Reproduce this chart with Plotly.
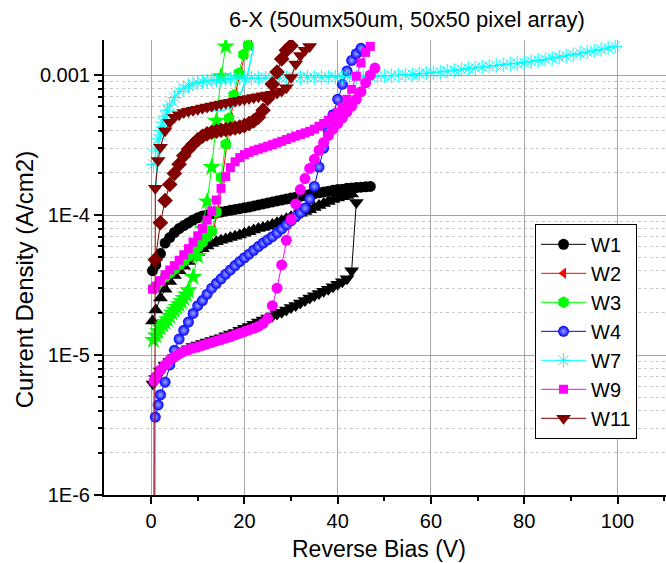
import plotly.graph_objects as go

# ---------------- data ----------------
w1_v = [0.3,1,2,3,4,5,6,7,8,9,10,11,12,13,14,15,16,17,18,19,20,21,22,23,24,25,26,27,28,29,30,31,32,33,34,35,36,37,38,39,40,41,42,43,44,45,46,47]
w1_j = [4.0e-5,4.4e-5,5.3e-5,6.3e-5,6.9e-5,7.5e-5,8.0e-5,8.4e-5,8.8e-5,9.2e-5,9.55e-5,9.85e-5,1.0e-4,1.02e-4,1.035e-4,1.05e-4,1.065e-4,1.08e-4,1.095e-4,1.11e-4,1.125e-4,1.14e-4,1.16e-4,1.18e-4,1.2e-4,1.22e-4,1.24e-4,1.26e-4,1.28e-4,1.30e-4,1.32e-4,1.34e-4,1.36e-4,1.38e-4,1.40e-4,1.42e-4,1.44e-4,1.46e-4,1.48e-4,1.50e-4,1.52e-4,1.53e-4,1.55e-4,1.56e-4,1.57e-4,1.58e-4,1.59e-4,1.6e-4]

w1b_v = [0.3,1,2,3,4,5,6,7,8,9,10,11,12,13,14,15,16,17,18,19,20,21,22,23,24,25,26,27,28,29,30,31,32,33,34,35,36,37,38,39,40,41,42,43]
w1b_j = [1.75e-5,2.1e-5,2.55e-5,2.95e-5,3.35e-5,3.7e-5,4.0e-5,4.3e-5,4.65e-5,5.0e-5,5.4e-5,5.75e-5,6.0e-5,6.25e-5,6.45e-5,6.6e-5,6.75e-5,6.9e-5,7.05e-5,7.2e-5,7.4e-5,7.6e-5,7.8e-5,8.0e-5,8.15e-5,8.3e-5,8.55e-5,8.8e-5,9.1e-5,9.4e-5,9.7e-5,1.0e-4,1.03e-4,1.06e-4,1.09e-4,1.13e-4,1.17e-4,1.21e-4,1.25e-4,1.29e-4,1.32e-4,1.35e-4,1.38e-4,1.41e-4]

w1c_v = [0.4,1,2,3,4,5,6,7,8,9,10,11,12,13,14,15,16,17,18,19,20,21,22,23,24,25,26,27,28,29,30,31,32,33,34,35,36,37,38,39,40,41,42,43,44]
w1c_j = [6.2e-6,6.8e-6,7.7e-6,8.4e-6,9.0e-6,9.6e-6,1.02e-5,1.07e-5,1.11e-5,1.15e-5,1.18e-5,1.21e-5,1.24e-5,1.27e-5,1.3e-5,1.33e-5,1.37e-5,1.41e-5,1.45e-5,1.5e-5,1.55e-5,1.6e-5,1.66e-5,1.72e-5,1.78e-5,1.84e-5,1.9e-5,1.96e-5,2.02e-5,2.1e-5,2.18e-5,2.26e-5,2.35e-5,2.45e-5,2.55e-5,2.65e-5,2.75e-5,2.85e-5,2.95e-5,3.07e-5,3.2e-5,3.33e-5,3.5e-5,4.0e-5,1.23e-4]

w3_v = [0.5,1,2,3,4,5,6,7,8,9,10,11,12,13,14,15,16,16.7,17.7,18.8,19.8,20.8]
w3_j = [3.0e-5,3.1e-5,3.35e-5,3.6e-5,3.85e-5,4.1e-5,4.4e-5,4.7e-5,5.05e-5,5.45e-5,5.9e-5,6.4e-5,7.0e-5,7.7e-5,1.05e-4,1.85e-4,3.2e-4,4.9e-4,7.2e-4,1.03e-3,1.4e-3,1.63e-3]

w2_v = [0.8,1.3,2.3,3.3,4.3,5.3,6.3,7.3,8.3,9.3,10.3,11.3,12.3,13.3,14.3,15.3,16.3,17.0,18.0,19.1,20.1,21.1]
w2_j = [3.0e-5,3.1e-5,3.35e-5,3.6e-5,3.85e-5,4.1e-5,4.4e-5,4.7e-5,5.05e-5,5.45e-5,5.9e-5,6.4e-5,7.0e-5,7.7e-5,1.05e-4,1.85e-4,3.2e-4,4.9e-4,7.2e-4,1.03e-3,1.4e-3,1.63e-3]

w3b_v = [0.5,1,1.5,2,2.5,3,3.5,4,4.5,5,5.5,6,6.5,7,7.5,8,9,10,11,12,13,14,15,16]
w3b_j = [1.28e-5,1.38e-5,1.48e-5,1.57e-5,1.65e-5,1.72e-5,1.8e-5,1.9e-5,2.0e-5,2.1e-5,2.2e-5,2.3e-5,2.42e-5,2.55e-5,2.7e-5,2.9e-5,3.6e-5,5.1e-5,8.0e-5,1.25e-4,2.2e-4,4.7e-4,9.8e-4,1.6e-3]

w4_v = [0.9,1.5,2,3,4,5,6,7,8,9,10,11,12,13,14,15,16,17,18,19,20,21,22,23,24,25,26,27,28,29,30,31,32,33,34,35,36,37,38,39,40,41,42,43,44,45]
w4_j = [3.6e-6,4.4e-6,5.2e-6,6.4e-6,8.5e-6,1.08e-5,1.3e-5,1.5e-5,1.72e-5,1.98e-5,2.25e-5,2.45e-5,2.72e-5,3.0e-5,3.25e-5,3.5e-5,3.78e-5,4.05e-5,4.35e-5,4.65e-5,4.95e-5,5.25e-5,5.6e-5,5.95e-5,6.3e-5,6.65e-5,7.0e-5,7.45e-5,7.95e-5,8.5e-5,9.1e-5,9.7e-5,1.04e-4,1.12e-4,1.3e-4,1.6e-4,2.2e-4,3.0e-4,4.0e-4,5.2e-4,6.7e-4,8.6e-4,1.07e-3,1.27e-3,1.42e-3,1.55e-3]

w7_v = [0.5,1,1.5,2,2.5,3,3.5,4,5,6,7,8,9,10,11,12,13,14,15,16,17,18,19,20,
        21.5,23,24.5,26,27.5,29,30.5,32,33.5,35,36.5,38,39.5,41,42.5,44,45.5,47,48.5,50,
        51.5,53,54.5,56,57.5,59,60.5,62,63.5,65,66.5,68,69.5,71,72.5,74,75.5,77,78.5,80,
        81.5,83,84.5,86,87.5,89,90.5,92,93.5,95,96.5,98,99.5]
w7_j = [2.3e-4,2.9e-4,3.5e-4,4.0e-4,4.6e-4,5.1e-4,5.6e-4,6.1e-4,6.9e-4,7.6e-4,8.05e-4,8.4e-4,8.65e-4,8.8e-4,8.95e-4,9.05e-4,9.15e-4,9.22e-4,9.3e-4,9.35e-4,9.4e-4,9.45e-4,9.48e-4,9.5e-4,
        9.51e-4,9.52e-4,9.53e-4,9.55e-4,9.57e-4,9.58e-4,9.6e-4,9.6e-4,9.61e-4,9.62e-4,9.63e-4,9.64e-4,9.65e-4,9.66e-4,9.68e-4,9.7e-4,9.73e-4,9.76e-4,9.8e-4,9.85e-4,
        9.9e-4,9.96e-4,1.0e-3,1.01e-3,1.02e-3,1.03e-3,1.04e-3,1.05e-3,1.065e-3,1.08e-3,1.095e-3,1.11e-3,1.125e-3,1.14e-3,1.155e-3,1.17e-3,1.185e-3,1.2e-3,1.21e-3,1.225e-3,
        1.25e-3,1.27e-3,1.29e-3,1.32e-3,1.345e-3,1.37e-3,1.4e-3,1.43e-3,1.46e-3,1.49e-3,1.52e-3,1.56e-3,1.6e-3]

w7b_v = [0.9,1.3,1.7,2.7,4,5.5,8,10.5,13,15.5,17,18.4,19.5,20.6,21.3,22]
w7b_j = [1.4e-4,2.4e-4,3.3e-4,4.3e-4,4.7e-4,5.0e-4,5.3e-4,5.5e-4,5.55e-4,5.6e-4,5.8e-4,6.3e-4,7.8e-4,9.8e-4,1.25e-3,1.6e-3]

w9_v = [0.3,1,2,3,4,5,6,7,8,9,10,11,12,13,14,15,16,17,18,19,20,21,22,23,24,25,26,27,28,29,30,31,32,33,34,35,36,37,38,39,40,41,42,43,44,45,46,47]
w9_j = [2.95e-5,3.1e-5,3.4e-5,3.75e-5,4.05e-5,4.35e-5,4.75e-5,5.2e-5,5.75e-5,6.4e-5,7.1e-5,8.0e-5,9.2e-5,1.07e-4,1.28e-4,1.55e-4,1.88e-4,2.18e-4,2.4e-4,2.57e-4,2.7e-4,2.8e-4,2.88e-4,2.95e-4,3.02e-4,3.1e-4,3.18e-4,3.27e-4,3.36e-4,3.46e-4,3.56e-4,3.66e-4,3.76e-4,3.86e-4,3.96e-4,4.1e-4,4.3e-4,4.5e-4,4.75e-4,5.05e-4,5.4e-4,5.9e-4,6.7e-4,7.9e-4,9.8e-4,1.22e-3,1.45e-3,1.6e-3]

w9b_v = [0.5,0.6,1,2,3,4,5,6,7,8,9,10,11,12,13,14,15,16,17,18,19,20,21,22,23,24,25,26,27,28,29,30,31,32,33,34,35,36,37,38,39,40,41,42,43,44,45,46,47,48]
w9b_j = [1e-8,6.5e-6,7.0e-6,7.8e-6,8.5e-6,9.2e-6,9.7e-6,1.02e-5,1.06e-5,1.09e-5,1.12e-5,1.14e-5,1.17e-5,1.2e-5,1.23e-5,1.26e-5,1.29e-5,1.32e-5,1.35e-5,1.39e-5,1.43e-5,1.47e-5,1.51e-5,1.55e-5,1.6e-5,1.68e-5,1.82e-5,2.25e-5,3.0e-5,4.4e-5,6.6e-5,9.3e-5,1.2e-4,1.52e-4,1.82e-4,2.15e-4,2.5e-4,2.9e-4,3.3e-4,3.7e-4,4.1e-4,4.5e-4,4.95e-4,5.45e-4,6.0e-4,6.7e-4,7.6e-4,8.8e-4,1.0e-3,1.12e-3]

w11_v = [0.7,0.9,1.5,2,3,4,5,6,7,8,9,10,11,12,13,14,15,16,17,18,19,20,21,22,23,24,25,26,27,28,29,30,31,32,33,34]
w11_j = [1e-8,1.55e-4,2.45e-4,3.05e-4,4.0e-4,4.6e-4,5.0e-4,5.2e-4,5.4e-4,5.5e-4,5.6e-4,5.7e-4,5.8e-4,5.9e-4,6.0e-4,6.1e-4,6.2e-4,6.3e-4,6.4e-4,6.5e-4,6.6e-4,6.7e-4,6.8e-4,6.9e-4,7.0e-4,7.1e-4,7.2e-4,7.3e-4,7.45e-4,7.7e-4,8.1e-4,9.6e-4,1.2e-3,1.38e-3,1.5e-3,1.6e-3]

w11b_v = [0.9,2,3,4,5,6,7,8,9,10,11,12,13,14,15,16,17,18,19,20,21,22,23,24,25,26,27,28,29,30]
w11b_j = [4.8e-5,8.8e-5,1.27e-4,1.65e-4,1.98e-4,2.3e-4,2.65e-4,2.95e-4,3.2e-4,3.45e-4,3.65e-4,3.8e-4,3.9e-4,3.97e-4,4.03e-4,4.08e-4,4.13e-4,4.18e-4,4.25e-4,4.35e-4,4.5e-4,4.7e-4,5.0e-4,5.6e-4,6.8e-4,8.6e-4,1.05e-3,1.3e-3,1.5e-3,1.62e-3]

x_ticks = [0, 20, 40, 60, 80, 100]
x_minor = [10, 30, 50, 70, 90, 110]
y_ticks = [1e-6, 1e-5, 1e-4, 1e-3]
y_ticktext = ["1E-6", "1E-5", "1E-4", "0.001"]

# ---------------- figure ----------------
FONT = "Liberation Sans, Arial, sans-serif"
fig = go.Figure()

def add(v, j, name, color, symbol, size, legend=False, rank=None, lw=1, **mk):
    marker = dict(symbol=symbol, size=size, color=color, line=dict(width=0, color=color))
    marker.update(mk)
    fig.add_trace(go.Scatter(
        x=v, y=j, name=name, mode="lines+markers",
        line=dict(color=color, width=lw), marker=marker,
        showlegend=legend, legendrank=rank if rank else 1000))

add(w1c_v, w1c_j, "W1c", "#000000", "triangle-down", 13)
add(w1b_v, w1b_j, "W1b", "#000000", "triangle-up", 13)
add(w1_v, w1_j, "W1", "#000000", "circle", 11, True, 1)
add(w2_v, w2_j, "W2", "#ff0000", "triangle-left", 10, True, 2)
add(w3_v, w3_j, "W3", "#00ff00", "hexagon", 12, True, 3)
add(w3b_v, w3b_j, "W3b", "#00ff00", "star", 14)
add(w4_v, w4_j, "W4", "#0000ff", "circle", 11, True, 4,
    gradient=dict(type="radial", color="#9aa6ff"))
fig.add_trace(go.Scatter(
    x=w7_v, y=w7_j, name="W7", mode="lines+markers",
    line=dict(color="#00ffff", width=1),
    marker=dict(symbol="asterisk-open", size=12, color="#00ffff",
                line=dict(color="#00ffff", width=1)),
    showlegend=True, legendrank=5))
fig.add_trace(go.Scatter(
    x=w7b_v, y=w7b_j, name="W7b", mode="lines",
    line=dict(color="#00ffff", width=1.5), showlegend=False))
add(w9b_v, w9b_j, "W9b", "#ff00ff", "circle", 11)
add(w9_v, w9_j, "W9", "#ff00ff", "square", 9, True, 6)
add(w11b_v, w11b_j, "W11b", "#800000", "diamond", 12)
add(w11_v, w11_j, "W11", "#800000", "triangle-down", 13, True, 7)

fig.update_layout(
    width=666, height=563,
    margin=dict(l=104, r=0, t=40, b=68),
    paper_bgcolor="white", plot_bgcolor="white",
    font=dict(family=FONT, size=20, color="black"),
    showlegend=True,
    legend=dict(x=0.767, y=0.596, xanchor="left", yanchor="top",
                bgcolor="white", bordercolor="black", borderwidth=1,
                font=dict(family=FONT, size=20, color="black"),
                tracegroupgap=0, itemwidth=45),
    xaxis=dict(range=[-10.1, 110.4], tickvals=x_ticks,
               ticks="outside", ticklen=7, tickwidth=1.5, tickcolor="black",
               showline=True, linecolor="black", linewidth=2,
               showgrid=True, gridcolor="#a6a6a6", gridwidth=1, zeroline=False,
               tickfont=dict(family=FONT, size=20),
               minor=dict(tickvals=x_minor, ticks="outside", ticklen=4,
                          tickcolor="black", showgrid=False)),
    yaxis=dict(type="log", range=[-6, -2.75], tickvals=y_ticks, ticktext=y_ticktext,
               ticks="outside", ticklen=8, tickwidth=1.5, tickcolor="black",
               showline=True, linecolor="black", linewidth=2,
               showgrid=True, gridcolor="#a6a6a6", gridwidth=1, zeroline=False,
               tickfont=dict(family=FONT, size=20),
               minor=dict(tickvals=[k * 10.0 ** e for e in (-6, -5, -4, -3) for k in range(2, 10)],
                          ticks="outside", ticklen=4, tickcolor="black",
                          showgrid=True, gridcolor="#c8c8c8", griddash="dot", gridwidth=1)),
    annotations=[
        dict(text="6-X (50umx50um, 50x50 pixel array)", xref="paper", yref="paper",
             x=0.539, y=1.044, showarrow=False, xanchor="center", yanchor="middle",
             font=dict(family=FONT, size=22, color="black")),
        dict(text="Reverse Bias (V)", xref="paper", yref="paper",
             x=0.49, y=-0.119, showarrow=False, xanchor="center", yanchor="middle",
             font=dict(family=FONT, size=23, color="black")),
        dict(text="Current Density (A/cm2)", xref="paper", yref="paper",
             x=-0.142, y=0.4725, showarrow=False, xanchor="center", yanchor="middle",
             textangle=-90, font=dict(family=FONT, size=24, color="black")),
    ],
)

fig.write_html("out.html")
